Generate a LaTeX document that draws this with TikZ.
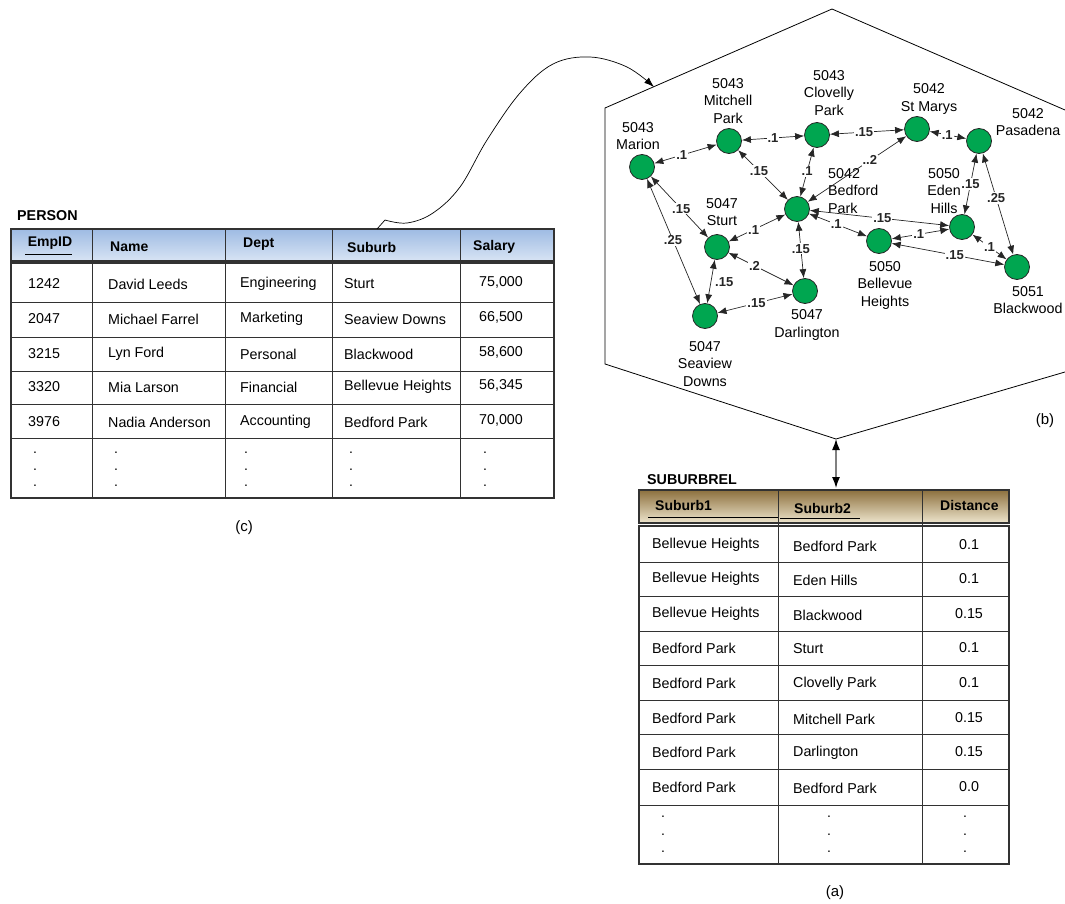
\documentclass[tikz,border=0pt]{standalone}
\usepackage{fontspec}
\setmainfont{Liberation Sans}
\usetikzlibrary{arrows.meta}
\definecolor{towngreen}{RGB}{0,166,80}
\definecolor{gridline}{RGB}{50,50,50}
\definecolor{persontop}{RGB}{158,187,227}
\definecolor{personbot}{RGB}{216,228,244}
\definecolor{reltop}{RGB}{140,112,62}
\definecolor{relbot}{RGB}{238,229,205}
\tikzset{
  town/.style={circle, draw=black!85, line width=0.8pt, fill=towngreen, minimum size=25pt, inner sep=0pt},
  townlbl/.style={align=center, inner sep=0pt, font=\fontsize{14.3}{17.5}\selectfont},
  link/.style={{Latex[length=9pt,width=7pt]}-{Latex[length=9pt,width=7pt]}, line width=0.7pt, black!85},
  wt/.style={fill=white, inner sep=1pt, font=\fontsize{13}{13}\selectfont\bfseries},
  cell/.style={anchor=west, inner sep=0pt, font=\fontsize{14.3}{16}\selectfont},
  ccell/.style={inner sep=0pt, font=\fontsize{14.3}{16}\selectfont},
  head/.style={anchor=west, inner sep=0pt, font=\fontsize{14}{16}\selectfont\bfseries},
  title/.style={anchor=west, inner sep=0pt, font=\fontsize{14.3}{16}\selectfont\bfseries},
  grid/.style={draw=gridline, line width=0.9pt},
  dotmark/.style={inner sep=0pt, font=\fontsize{14}{16}\selectfont},
  caption/.style={inner sep=0pt, font=\fontsize{15}{17}\selectfont},
}
\begin{document}
\begin{tikzpicture}[x=1pt,y=-1pt]
\useasboundingbox (0,0) rectangle (1065,904);

% ---------- hexagon frame of the road network ----------
\coordinate (hexR1) at (1065,110);
\coordinate (hexTop) at (832,9);
\coordinate (hexL1) at (605,108);
\coordinate (hexL2) at (605,364);
\coordinate (hexBot) at (836,439);
\coordinate (hexR2) at (1065,372);
\draw[line width=0.8pt] (hexR1) -- (hexTop) -- (hexL1) -- (hexL2) -- (hexBot) -- (hexR2);
\node[caption] (capB) at (1045,421) {(b)};

% ---------- suburbs ----------
\node[town] (marion)    at (642,167) {};
\node[town] (mitchell)  at (729,141) {};
\node[town] (clovelly)  at (817,135) {};
\node[town] (stmarys)   at (917,129) {};
\node[town] (pasadena)  at (979,141) {};
\node[town] (bedford)   at (797,209) {};
\node[town] (sturt)     at (717,247) {};
\node[town] (eden)      at (962,227) {};
\node[town] (bellevue)  at (879,241) {};
\node[town] (blackwood) at (1017,267) {};
\node[town] (darlington) at (805,291) {};
\node[town] (seaview)   at (705,316) {};

\node[townlbl] (marionL)    at (638,136) {5043\\Marion};
\node[townlbl] (mitchellL)  at (728,101) {5043\\Mitchell\\Park};
\node[townlbl] (clovellyL)  at (829,93)  {5043\\Clovelly\\Park};
\node[townlbl] (stmarysL)   at (929,99)  {5042\\St Marys};
\node[townlbl] (pasadenaL)  at (1028,122) {5042\\Pasadena};
\node[townlbl, anchor=west, align=left] (bedfordL) at (828,191) {5042\\Bedford\\Park};
\node[townlbl] (sturtL)     at (722,212) {5047\\Sturt};
\node[townlbl] (edenL)      at (944,191) {5050\\Eden\\Hills};
\node[townlbl] (bellevueL)  at (885,285) {5050\\Bellevue\\Heights};
\node[townlbl] (blackwoodL) at (1028,300) {5051\\Blackwood};
\node[townlbl] (darlingtonL) at (807,325) {5047\\Darlington};
\node[townlbl] (seaviewL)   at (705,364) {5047\\Seaview\\Downs};

% ---------- distances ----------
\draw[link] (marion) -- node[wt,pos=.44] {.1} (mitchell);
\draw[link] (mitchell) -- node[wt,pos=.5] {.1} (clovelly);
\draw[link] (clovelly) -- node[wt,pos=.46] {.15} (stmarys);
\draw[link] (stmarys) -- node[wt,pos=.48] {.1} (pasadena);
\draw[link] (mitchell) -- node[wt,pos=.42] {.15} (bedford);
\draw[link] (clovelly) -- node[wt,pos=.49] {.1} (bedford);
\draw[link] (bedford) -- node[wt,pos=.63] {..2} (stmarys);
\draw[link] (pasadena) -- node[wt,pos=.5] {.15} (eden);
\draw[link] (pasadena) -- node[wt,pos=.44] {.25} (blackwood);
\draw[link] (marion) -- node[wt,pos=.53] {.15} (sturt);
\draw[link] (marion) -- node[wt,pos=.49] {.25} (seaview);
\draw[link] (sturt) -- node[wt,pos=.44] {.1} (bedford);
\draw[link] (sturt) -- node[wt,fill=none,pos=.52,anchor=west,xshift=3pt] {.15} (seaview);
\draw[link] (sturt) -- node[wt,pos=.4] {.2} (darlington);
\draw[link] (seaview) -- node[wt,pos=.52] {.15} (darlington);
\draw[link] (bedford) -- node[wt,pos=.48] {.15} (darlington);
\draw[link] (bedford) -- node[wt,pos=.52] {.15} (eden);
\draw[link] (bedford) -- node[wt,pos=.47] {.1} (bellevue);
\draw[link] (bellevue) -- node[wt,pos=.47] {.1} (eden);
\draw[link] (bellevue) -- node[wt,pos=.56] {.15} (blackwood);
\draw[link] (eden) -- node[wt,pos=.5] {.1} (blackwood);

% ---------- PERSON table ----------
\node[title] (personT) at (17,216) {PERSON};
\shade[top color=persontop, bottom color=personbot] (11,229) rectangle (554,261);
\draw[grid, line width=1.2pt] (11,229) rectangle (554,261);
\draw[grid, line width=1.2pt] (11,263) rectangle (554,498);
\foreach \yy in {302,337,371,404,438} \draw[grid] (11,\yy) -- (554,\yy);
\foreach \xx in {92,225,332,460} \draw[grid] (\xx,229) -- (\xx,498);

\node[head, anchor=center] (pH1) at (50,243) {EmpID};
\draw[line width=0.8pt] (25,254) -- (72,254);
\node[head] (pH2) at (110,247) {Name};
\node[head] (pH3) at (243,244) {Dept};
\node[head] (pH4) at (347,247) {Suburb};
\node[head] (pH5) at (473,247) {Salary};

\foreach \i/\yy/\a/\b/\c/\d/\e in {
  1/284/1242/David Leeds/Engineering/Sturt/{75,000},
  2/319/2047/Michael Farrel/Marketing/Seaview Downs/{66,500},
  3/354/3215/Lyn Ford/Personal/Blackwood/{58,600},
  4/387/3320/Mia Larson/Financial/Bellevue Heights/{56,345},
  5/422/3976/Nadia Anderson/Accounting/Bedford Park/{70,000}} {
  \node[cell] (p\i a) at (28,\yy) {\a};
  \node[cell] (p\i b) at (108,\yy) {\b};
  \node[cell] (p\i c) at (240,\yy) {\c};
  \node[cell] (p\i d) at (344,\yy) {\d};
  \node[ccell] (p\i e) at (501,\yy-2) {\e};
}
\foreach \xx [count=\k] in {35,116,246,351,485}
  \foreach \yy [count=\j] in {453,470,486}
    \node[dotmark] (pdot\k\j) at (\xx,\yy) {.};
\node[caption] (capC) at (244,528) {(c)};

% ---------- link from PERSON.Suburb to the network ----------
\coordinate (curveStart) at (377,229);
\coordinate (curveEnd) at (654,87);
\draw[line width=0.7pt, -{Latex[length=10pt,width=7pt]}] (curveStart) -- plot[smooth, tension=0.6] coordinates {(385,220) (407,223) (433,213) (460,187) (487,140) (520,93) (553,64) (590,57) (627,67) (curveEnd)};

% ---------- network <-> SUBURBREL ----------
\coordinate (relTop) at (836,488);
\draw[black!50, line width=1.3pt, {Latex[length=11pt,width=8pt,black]}-{Latex[length=11pt,width=8pt,black]}] (hexBot) -- (relTop);

% ---------- SUBURBREL table ----------
\node[title] (relT) at (647,480) {SUBURBREL};
\shade[top color=reltop, bottom color=relbot] (639,490) rectangle (1009,523);
\draw[grid, line width=1.2pt] (639,490) rectangle (1009,523);
\draw[grid, line width=1.2pt] (639,526) rectangle (1009,864);
\foreach \yy in {562,596.5,631,665.5,700,734.5,769,805} \draw[grid] (639,\yy) -- (1009,\yy);
\foreach \xx in {778,922} \draw[grid] (\xx,490) -- (\xx,864);

\node[head] (rH1) at (655,505) {Suburb1};
\draw[line width=0.8pt] (648,517) -- (778,517);
\node[head] (rH2) at (794,508) {Suburb2};
\draw[line width=0.8pt] (780,518) -- (860,518);
\node[head] (rH3) at (940,505) {Distance};

\foreach \i/\yy/\a/\b/\c in {
  1/545/Bellevue Heights/Bedford Park/0.1,
  2/579/Bellevue Heights/Eden Hills/0.1,
  3/614/Bellevue Heights/Blackwood/0.15,
  4/648/Bedford Park/Sturt/0.1,
  5/683/Bedford Park/Clovelly Park/0.1,
  6/718/Bedford Park/Mitchell Park/0.15,
  7/752/Bedford Park/Darlington/0.15,
  8/787/Bedford Park/Bedford Park/0.0} {
  \node[cell] (r\i a) at (652,\yy) {\a};
  \node[cell] (r\i b) at (793,\yy+1) {\b};
  \node[ccell] (r\i c) at (969,\yy) {\c};
}
\foreach \xx [count=\k] in {663,829,965}
  \foreach \yy [count=\j] in {817,835,852}
    \node[dotmark] (rdot\k\j) at (\xx,\yy) {.};
\node[caption] (capA) at (835,893) {(a)};
\end{tikzpicture}
\end{document}
